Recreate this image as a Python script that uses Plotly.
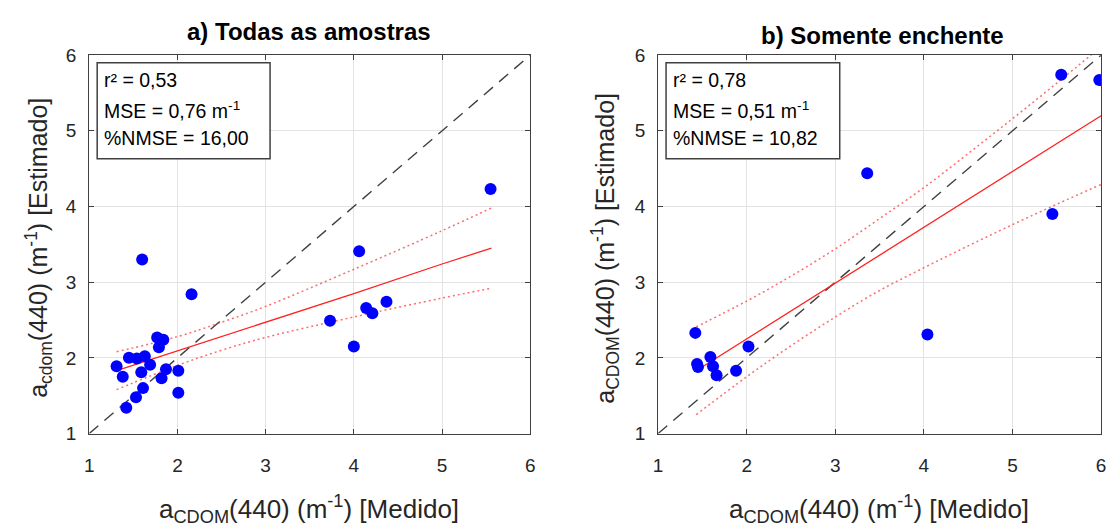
import plotly.graph_objects as go

W, H = 1117, 530

# ---------------- data ----------------
# Panel a) Todas as amostras
a_medido = [1.60, 2.16, 1.77, 1.84, 1.79, 1.45, 1.54, 1.63, 1.69, 1.31, 1.38, 1.59, 1.87,
            1.82, 2.01, 1.61, 1.53, 1.42, 2.01, 5.55, 4.06, 4.37, 4.14, 4.21, 3.73, 4.00]
a_estimado = [3.30, 2.84, 2.27, 2.24, 2.14, 2.00, 1.99, 2.02, 1.91, 1.89, 1.75, 1.81, 1.85,
              1.73, 1.83, 1.60, 1.48, 1.34, 1.54, 4.23, 3.41, 2.74, 2.66, 2.59, 2.49, 2.15]
a_fit_x = [1.31, 2.0, 2.5, 3.0, 4.0, 5.0, 5.56]
a_fit_y = [1.83, 2.09, 2.28, 2.47, 2.85, 3.24, 3.45]
a_upper = [2.08, 2.28, 2.47, 2.68, 3.17, 3.68, 3.98]
a_lower = [1.58, 1.90, 2.10, 2.27, 2.54, 2.79, 2.92]
a_stats = ["r² = 0,53", "MSE = 0,76 m<sup>-1</sup>", "%NMSE = 16,00"]

# Panel b) Somente enchente
b_medido = [1.42, 2.02, 1.59, 1.44, 1.45, 1.62, 1.66, 1.88, 3.36, 4.04, 5.45, 5.55, 5.98]
b_estimado = [2.33, 2.15, 2.01, 1.92, 1.88, 1.89, 1.77, 1.83, 4.44, 2.31, 3.90, 5.74, 5.67]
b_fit_x = [1.43, 2.0, 2.5, 3.0, 3.5, 4.0, 4.5, 5.0, 5.5, 6.0]
b_fit_y = [1.83, 2.25, 2.62, 2.99, 3.36, 3.72, 4.09, 4.46, 4.83, 5.20]
b_upper = [2.41, 2.75, 3.08, 3.44, 3.84, 4.25, 4.70, 5.16, 5.63, 6.11]
b_lower = [1.25, 1.75, 2.16, 2.54, 2.89, 3.19, 3.48, 3.76, 4.03, 4.29]
b_stats = ["r² = 0,78", "MSE = 0,51 m<sup>-1</sup>", "%NMSE = 10,82"]

one_to_one = [1, 6]
ticks = [1, 2, 3, 4, 5, 6]
titles = ["a) Todas as amostras", "b) Somente enchente"]
xlabel = "a<sub>CDOM</sub>(440) (m<sup>-1</sup>) [Medido]"
ylabels = ["a<sub>cdom</sub>(440) (m<sup>-1</sup>) [Estimado]",
           "a<sub>CDOM</sub>(440) (m<sup>-1</sup>) [Estimado]"]

FONT = "Liberation Sans, Arial, Helvetica, sans-serif"
TXT = "#262626"

fig = go.Figure()

panels = [
    ("x", "y", a_medido, a_estimado, a_fit_x, a_fit_y, a_upper, a_lower),
    ("x2", "y2", b_medido, b_estimado, b_fit_x, b_fit_y, b_upper, b_lower),
]
for xa, ya, mx, my, fx, fy, up, lo in panels:
    fig.add_trace(go.Scatter(x=one_to_one, y=one_to_one, mode="lines", xaxis=xa, yaxis=ya,
                             line=dict(color="#404040", width=1.4, dash="12px,8px"),
                             showlegend=False, hoverinfo="skip"))
    fig.add_trace(go.Scatter(x=fx, y=up, mode="lines", xaxis=xa, yaxis=ya,
                             line=dict(color="rgba(255,60,60,0.75)", width=1.5, dash="2px,3px", shape="spline"),
                             showlegend=False))
    fig.add_trace(go.Scatter(x=fx, y=lo, mode="lines", xaxis=xa, yaxis=ya,
                             line=dict(color="rgba(255,60,60,0.75)", width=1.5, dash="2px,3px", shape="spline"),
                             showlegend=False))
    fig.add_trace(go.Scatter(x=fx, y=fy, mode="lines", xaxis=xa, yaxis=ya,
                             line=dict(color="#ff2020", width=1.3),
                             showlegend=False))
    fig.add_trace(go.Scatter(x=mx, y=my, mode="markers", xaxis=xa, yaxis=ya,
                             marker=dict(color="#0000ff", size=12, line=dict(width=0)),
                             showlegend=False))

ydom = [1 - 441 / H, 1 - 47 / H]
axis_common = dict(range=[1, 6], tickvals=ticks, showgrid=True, gridcolor="#e3e3e3", gridwidth=1,
                   showline=True, linecolor="#404040", linewidth=1, mirror="ticks",
                   ticks="inside", ticklen=5, tickcolor="#404040", zeroline=False,
                   tickfont=dict(family=FONT, size=19, color=TXT))
fig.update_layout(
    width=W, height=H, margin=dict(l=0, r=0, t=0, b=0),
    paper_bgcolor="white", plot_bgcolor="white",
    xaxis=dict(domain=[85 / W, 530 / W], anchor="y", ticklabelstandoff=15, **axis_common),
    yaxis=dict(domain=ydom, anchor="x", ticklabelstandoff=8, **axis_common),
    xaxis2=dict(domain=[659 / W, 1106 / W], anchor="y2", ticklabelstandoff=15, **axis_common),
    yaxis2=dict(domain=ydom, anchor="x2", ticklabelstandoff=8, **axis_common),
)

shapes = []
annotations = []
for i, (xa, ya, stats) in enumerate([("x", "y", a_stats), ("x2", "y2", b_stats)]):
    shapes.append(dict(type="rect", xref=xa, yref=ya, x0=1.09, x1=3.05, y0=4.63, y1=5.9,
                       line=dict(color="#404040", width=1.5), fillcolor="white", layer="above"))
    for txt, yy in zip(stats, [5.67, 5.28, 4.90]):
        annotations.append(dict(xref=xa, yref=ya, x=1.15, y=yy, text=txt, showarrow=False,
                                xanchor="left", yanchor="middle",
                                font=dict(family=FONT, size=19.5, color="#000000")))

# titles
annotations.append(dict(xref="paper", yref="paper", x=307 / W, y=1 - 22 / H, text="<b>" + titles[0] + "</b>",
                        showarrow=False, xanchor="center", yanchor="middle",
                        font=dict(family=FONT, size=24, color="#000000")))
annotations.append(dict(xref="paper", yref="paper", x=885 / W, y=1 - 27 / H, text="<b>" + titles[1] + "</b>",
                        showarrow=False, xanchor="center", yanchor="middle",
                        font=dict(family=FONT, size=24, color="#000000")))
# x labels
for cx in [307, 882]:
    annotations.append(dict(xref="paper", yref="paper", x=cx / W, y=1 - 520 / H, text=xlabel,
                            showarrow=False, xanchor="center", yanchor="middle",
                            font=dict(family=FONT, size=26, color=TXT)))
# y labels
for cx, lab in zip([34, 606], ylabels):
    annotations.append(dict(xref="paper", yref="paper", x=cx / W, y=1 - 248 / H, text=lab,
                            showarrow=False, xanchor="center", yanchor="middle", textangle=-90,
                            font=dict(family=FONT, size=25, color=TXT)))

fig.update_layout(shapes=shapes, annotations=annotations)
fig.write_html("out.html")
